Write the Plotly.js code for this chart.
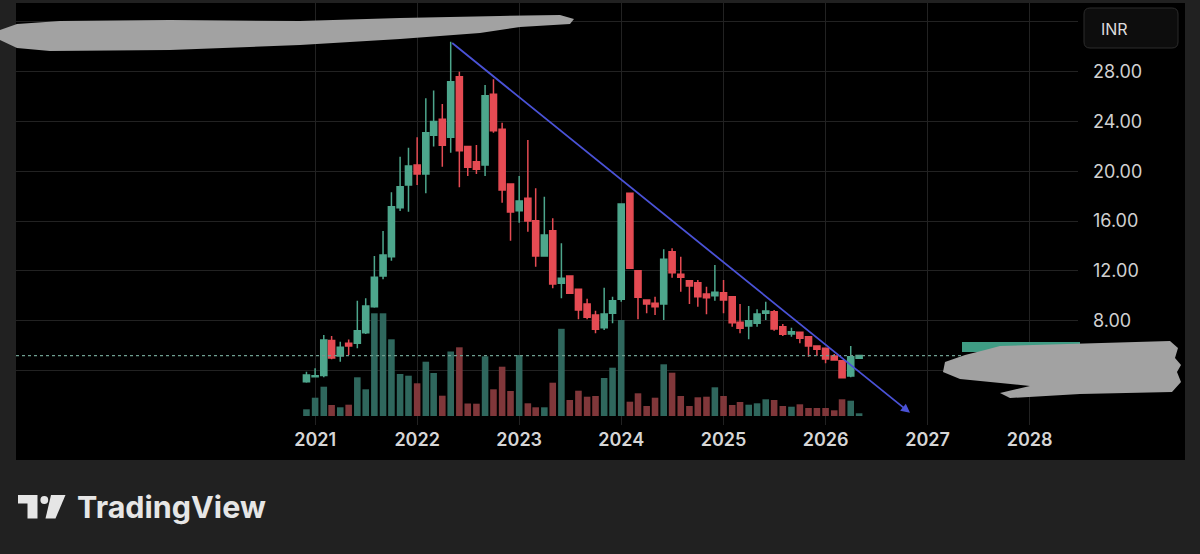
<!DOCTYPE html>
<html>
<head>
<meta charset="utf-8">
<script src="https://cdn.plot.ly/plotly-3.0.1.min.js"></script>
<style>
html,body{margin:0;padding:0;background:#212121;}
#chart{width:1200px;height:554px;}
</style>
</head>
<body>
<div id="chart"></div>
<script>
// ---- data (monthly candles) ----
const months = ['2020-12','2021-01','2021-02','2021-03','2021-04','2021-05','2021-06','2021-07','2021-08','2021-09','2021-10','2021-11','2021-12',
'2022-01','2022-02','2022-03','2022-04','2022-05','2022-06','2022-07','2022-08','2022-09','2022-10','2022-11','2022-12',
'2023-01','2023-02','2023-03','2023-04','2023-05','2023-06','2023-07','2023-08','2023-09','2023-10','2023-11','2023-12',
'2024-01','2024-02','2024-03','2024-04','2024-05','2024-06','2024-07','2024-08','2024-09','2024-10','2024-11','2024-12',
'2025-01','2025-02','2025-03','2025-04','2025-05','2025-06','2025-07','2025-08','2025-09','2025-10','2025-11','2025-12',
'2026-01','2026-02','2026-03','2026-04','2026-05'];
const openP  = [3.10,3.50,3.60,6.40,5.16,6.18,6.18,7.04,9.13,11.60,13.14,17.08,18.90,
20.50,19.78,22.90,24.18,22.73,27.60,22.00,20.77,20.50,26.18,23.37,18.98,
16.84,17.83,16.03,13.20,15.23,11.00,11.59,10.52,9.34,8.46,7.44,8.59,
9.72,18.23,12.02,9.66,9.40,9.34,13.54,11.73,11.21,11.05,10.14,10.01,
10.25,9.93,7.87,7.57,7.79,8.59,8.72,7.52,6.93,7.07,6.72,5.97,
5.78,5.16,4.79,3.56,4.98];
const highP  = [3.90,4.18,6.85,6.77,6.31,6.50,9.60,9.80,13.20,15.20,18.31,21.17,21.90,
22.73,25.86,26.50,25.40,30.40,28.00,22.03,22.11,26.93,27.39,23.90,19.00,
19.62,22.51,18.63,17.96,16.22,14.22,11.65,10.55,9.77,8.80,10.65,9.93,
17.40,18.30,12.05,9.70,9.93,13.73,13.82,13.14,11.25,11.27,10.73,12.47,
11.27,9.95,9.34,9.18,8.92,9.53,8.86,7.73,7.44,7.10,6.75,6.00,
5.83,5.33,4.82,5.97,5.25];
const lowP   = [3.02,3.45,3.45,4.90,4.71,5.24,5.78,6.93,9.05,11.33,12.82,16.81,16.76,
18.90,18.23,22.00,20.37,21.50,18.71,19.62,19.78,19.62,23.10,17.48,14.43,
15.87,15.15,12.34,13.15,10.60,9.80,10.14,8.11,8.11,6.99,7.25,7.79,
9.53,12.20,8.11,8.59,8.46,8.06,11.45,10.33,9.34,9.13,8.51,9.61,
8.59,7.52,6.99,6.51,7.52,8.06,7.20,6.77,6.72,6.18,5.11,5.16,
4.58,4.79,3.37,3.45,4.95];
const closeP = [3.64,3.58,6.45,5.00,5.86,5.97,7.20,9.18,11.49,13.28,17.16,18.76,20.43,
19.78,23.10,24.00,22.10,27.20,21.65,20.32,20.16,26.07,23.26,18.50,16.73,
17.61,16.01,13.20,14.88,10.95,11.40,10.20,8.86,8.27,7.31,8.54,9.61,
17.37,12.21,9.88,9.34,9.13,12.94,11.86,11.49,10.79,9.93,9.85,10.28,
9.66,7.84,7.39,8.00,8.54,8.78,7.33,6.91,7.12,6.59,5.97,5.70,
4.92,4.84,3.42,5.11,5.20];
const volume = [6.7,18.3,29.3,11,8.7,11.3,38.7,26.7,102.7,102.7,76.7,42,40.3,
32.7,54.3,43,20.3,64.5,68.7,12.5,12.3,59.7,26.7,49.3,25,
61,12.7,8.7,8.7,33.3,87.2,16,25.3,19.3,20,38,48.3,
96,14.3,22.7,10,18.3,51.7,43.3,20,10,18.7,19.3,28.7,
20,11,14,11.3,12.7,16.7,16,10,9.3,11.7,8,8,
8,5.7,16.7,15.3,2.7];
const lastPrice = 5.20;
const trendDates = ['2022-05-01','2026-10-30'];
const trendPrices = [30.4, 0.6];
const yearTicks = ['2021-01-01','2022-01-01','2023-01-01','2024-01-01','2025-01-01','2026-01-01','2027-01-01','2028-01-01'];
const yearLabels = ['2021','2022','2023','2024','2025','2026','2027','2028'];
const priceTicks = [4,8,12,16,20,24,28,32];
const priceLabels = ['','8.00','12.00','16.00','20.00','24.00','28.00',''];
const currency = 'INR';
const brand = 'TradingView';

// ---- styling ----
const UP = '#4da68c', DOWN = '#e54b53';
const VUP = '#2f675d', VDOWN = '#80373a';
const W = 1200, H = 554;
const M = {l:16, r:122, t:3, b:129};
const PW = W - M.l - M.r, PH = H - M.t - M.b;
const px = x => (x - M.l) / PW;
const py = y => (H - M.b - y) / PH;
function poly(pts){
  return 'M' + pts.map(p => px(p[0]).toFixed(5) + ',' + py(p[1]).toFixed(5)).join(' L') + ' Z';
}
function roundRect(x0,y0,x1,y1,r){
  const X = v=>px(v).toFixed(5), Y = v=>py(v).toFixed(5);
  return `M${X(x0+r)},${Y(y0)} L${X(x1-r)},${Y(y0)} Q${X(x1)},${Y(y0)} ${X(x1)},${Y(y0+r)} L${X(x1)},${Y(y1-r)} Q${X(x1)},${Y(y1)} ${X(x1-r)},${Y(y1)} L${X(x0+r)},${Y(y1)} Q${X(x0)},${Y(y1)} ${X(x0)},${Y(y1-r)} L${X(x0)},${Y(y0+r)} Q${X(x0)},${Y(y0)} ${X(x0+r)},${Y(y0)} Z`;
}

const volColors = closeP.map((c,i) => c >= openP[i] ? VUP : VDOWN);

const traces = [
  {type:'bar', x:months, y:volume, xaxis:'x', yaxis:'y',
   marker:{color:volColors, line:{width:0}}, hoverinfo:'skip', showlegend:false},
  {type:'candlestick', x:months, open:openP, high:highP, low:lowP, close:closeP,
   xaxis:'x', yaxis:'y2', whiskerwidth:0,
   increasing:{line:{color:UP,width:1.5}, fillcolor:UP},
   decreasing:{line:{color:DOWN,width:1.5}, fillcolor:DOWN},
   hoverinfo:'skip', showlegend:false}
];

// price axis: 0 at y=420.3px, 12.45 px per unit
const zeroPx = 420.3, perUnit = 12.45;
const pTop = (zeroPx - M.t) / perUnit;
const pBot = (zeroPx - (H - M.b)) / perUnit;
// volume axis: base at 416px, 1 unit per px
const vBase = 416;
const vBot = -((H - M.b) - vBase);
const vTop = vBase - M.t;

const gridC = '#222222';
const shapes = [
  {type:'rect', xref:'paper', yref:'paper', layer:'below',
   x0:px(16), x1:px(1185), y0:py(3), y1:py(460), fillcolor:'#000000', line:{width:0}},
  {type:'line', xref:'paper', yref:'y2', x0:0, x1:px(962), y0:lastPrice, y1:lastPrice,
   line:{color:'#6e9e90', width:1.3, dash:'dot'}},
  {type:'rect', xref:'paper', yref:'paper', x0:px(962), x1:px(1080), y0:py(342), y1:py(352),
   fillcolor:'#3f9c84', line:{width:0}},
  {type:'path', xref:'paper', yref:'paper', fillcolor:'#a2a2a2', line:{width:0},
   path: poly([[0,30],[17,24],[60,21],[170,20],[300,21],[400,18],[500,16],[560,15],[574,19],[570,24],[520,27],[480,33],[400,39],[300,45],[170,50],[50,51],[17,48],[0,40]])},
  {type:'path', xref:'paper', yref:'paper', fillcolor:'#a2a2a2', line:{width:0},
   path: poly([[1000,346],[1170,341],[1178,348],[1175,358],[1181,365],[1177,372],[1181,382],[1172,392],[1080,394],[1010,398],[1000,393],[1030,386],[960,379],[943,372],[945,362],[965,355],[985,350]])},
  {type:'path', xref:'paper', yref:'paper', fillcolor:'#0d0d0d', line:{color:'#2c2c2c', width:1},
   path: roundRect(1084,8,1178,48,6)},
  {type:'path', xref:'paper', yref:'paper', fillcolor:'#e6e6e6', line:{width:0},
   path: poly([[18,495],[37.5,495],[37.5,518.5],[27.5,518.5],[27.5,503.5],[18,503.5]])},
  {type:'circle', xref:'paper', yref:'paper', fillcolor:'#e6e6e6', line:{width:0},
   x0:px(40.4), x1:px(48.2), y0:py(496.1), y1:py(503.9)},
  {type:'path', xref:'paper', yref:'paper', fillcolor:'#e6e6e6', line:{width:0},
   path: poly([[51,495],[65.5,495],[55.5,518.5],[45.5,518.5]])}
];

const annotations = [
  {xref:'x', yref:'y2', axref:'x', ayref:'y2', x:trendDates[1], y:trendPrices[1],
   ax:trendDates[0], ay:trendPrices[0], text:'', showarrow:true,
   arrowhead:2, arrowsize:1, arrowwidth:1.8, arrowcolor:'#4a52d6'},
  {xref:'paper', yref:'paper', x:px(1099), y:py(29), xanchor:'left', yanchor:'middle',
   text:currency, showarrow:false, font:{family:'Inter, Roboto, sans-serif', size:16, color:'#dcdcdc'}},
  {xref:'paper', yref:'paper', x:px(75), y:py(507), xanchor:'left', yanchor:'middle',
   text:brand, showarrow:false, font:{family:'Inter, Roboto, sans-serif', size:30.5, color:'#e6e6e6', weight:700}}
];

const layout = {
  width:W, height:H, margin:M,
  paper_bgcolor:'#212121', plot_bgcolor:'rgba(0,0,0,0)',
  showlegend:false, dragmode:false,
  bargap:0.16, boxgap:0.22, boxgroupgap:0,
  xaxis:{type:'date', range:['2018-01-27','2028-06-22'], tickmode:'array',
    tickvals:yearTicks, ticktext:yearLabels, showgrid:true, gridcolor:gridC, gridwidth:1,
    zeroline:false, showline:false, ticks:'', ticklabelstandoff:2,
    tickfont:{family:'Inter, Roboto, sans-serif', size:18, color:'#d6d6d6', weight:600},
    rangeslider:{visible:false}, fixedrange:true},
  yaxis:{range:[vBot, vTop], visible:false, showgrid:false, zeroline:false, fixedrange:true},
  yaxis2:{overlaying:'y', side:'right', range:[pBot, pTop], tickmode:'array',
    tickvals:priceTicks, ticktext:priceLabels, showgrid:true, gridcolor:gridC, gridwidth:1,
    zeroline:false, showline:false, ticks:'', ticklabelstandoff:14,
    tickfont:{family:'Inter, Roboto, sans-serif', size:18, color:'#d0d0d0'}, fixedrange:true},
  shapes:shapes, annotations:annotations
};

Plotly.newPlot('chart', traces, layout, {displayModeBar:false, staticPlot:true});
</script>
</body>
</html>
